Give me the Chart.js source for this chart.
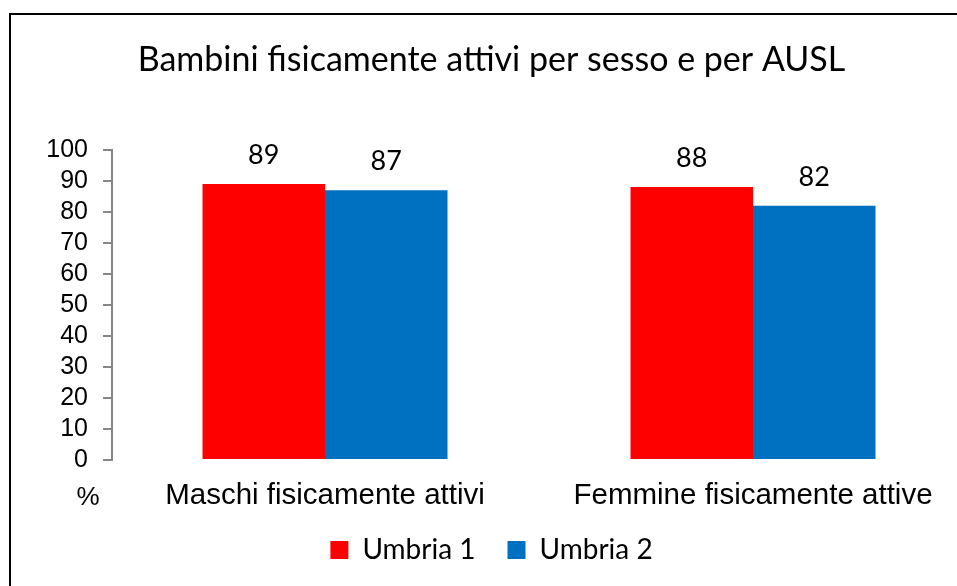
<!DOCTYPE html>
<html lang="it">
  <head>
    <meta charset="UTF-8" />
    <title>Bambini fisicamente attivi per sesso e per AUSL</title>
    <script src="https://cdn.jsdelivr.net/npm/chart.js"></script>
    <style>
      html, body { margin: 0; padding: 0; background: #fff; overflow: hidden; }
      #wrap { width: 957px; height: 586px; }
    </style>
  </head>
  <body>
    <div id="wrap"><canvas id="myChart" width="957" height="586"></canvas></div>
    <script>
      // dati
      var categories = ["Maschi fisicamente attivi", "Femmine fisicamente attive"]
      var umbria1 = [89, 88]
      var umbria2 = [87, 82]
      var yTicks = [0, 10, 20, 30, 40, 50, 60, 70, 80, 90, 100]

      var calibriLike = "Lato, 'Open Sans', sans-serif"
      var arialLike = "'Liberation Sans', Arial, sans-serif"

      function points(values) {
        return values.map(function (v, i) { return { x: i, y: v } })
      }

      // cornice + simbolo %
      var framePlugin = {
        id: "frame",
        beforeDraw: function (chart) {
          var c = chart.ctx
          c.save()
          c.strokeStyle = "#000"
          c.lineWidth = 2
          c.beginPath()
          c.moveTo(10, 586)
          c.lineTo(10, 14)
          c.lineTo(957, 14)
          c.stroke()
          c.restore()
        },
        afterDraw: function (chart) {
          var c = chart.ctx
          c.save()
          c.fillStyle = "#000"
          c.font = "26px " + arialLike
          c.textAlign = "center"
          c.textBaseline = "middle"
          c.fillText("%", 88, chart.chartArea.bottom + 38)
          c.restore()
        },
      }

      // etichette valori sopra le barre
      var valueLabels = {
        id: "valueLabels",
        afterDatasetsDraw: function (chart) {
          var c = chart.ctx
          c.save()
          c.fillStyle = "#000"
          c.font = "27px " + calibriLike
          c.textAlign = "center"
          c.textBaseline = "alphabetic"
          chart.data.datasets.forEach(function (ds, di) {
            chart.getDatasetMeta(di).data.forEach(function (bar, i) {
              c.fillText(String(ds.data[i].y), bar.x, bar.y - 20)
            })
          })
          c.restore()
        },
      }

      var ctx = document.getElementById("myChart").getContext("2d")
      new Chart(ctx, {
        type: "bar",
        data: {
          datasets: [
            { label: "Umbria 1", data: points(umbria1), backgroundColor: "#FF0000", borderWidth: 0 },
            { label: "Umbria 2", data: points(umbria2), backgroundColor: "#0070C0", borderWidth: 0 },
          ],
        },
        options: {
          responsive: false,
          animation: false,
          categoryPercentage: 0.5724,
          barPercentage: 1.0,
          layout: { padding: { left: 26, right: 0, top: 0, bottom: 12 } },
          plugins: {
            title: {
              display: true,
              text: "Bambini fisicamente attivi per sesso e per AUSL",
              color: "#000",
              font: { family: calibriLike, size: 34, weight: "normal" },
              padding: { top: 40, bottom: 69 },
            },
            legend: {
              position: "bottom",
              labels: {
                color: "#000",
                font: { family: calibriLike, size: 28 },
                boxWidth: 18,
                boxHeight: 18,
                padding: 32,
              },
            },
            tooltip: { enabled: false },
          },
          scales: {
            x: {
              type: "linear",
              offset: false,
              min: -0.4977,
              max: 1.4766,
              grid: { display: false, drawTicks: false },
              border: { display: false },
              afterBuildTicks: function (scale) {
                scale.ticks = categories.map(function (c, i) { return { value: i } })
              },
              afterFit: function (scale) { scale.height = 44 },
              ticks: {
                color: "#000",
                font: { family: arialLike, size: 29.5 },
                padding: 18,
                maxRotation: 0,
                autoSkip: false,
                callback: function (v) { return categories[v] },
              },
            },
            y: {
              min: 0,
              max: 100,
              afterBuildTicks: function (scale) {
                scale.ticks = yTicks.map(function (v) { return { value: v } })
              },
              afterFit: function (scale) { scale.width = 86 },
              grid: { drawOnChartArea: false, drawTicks: true, tickLength: 9, color: "#868686", lineWidth: 2 },
              border: { display: true, color: "#868686", width: 2 },
              ticks: {
                color: "#000",
                font: { family: arialLike, size: 25 },
                padding: 15,
                autoSkip: false,
              },
            },
          },
        },
        plugins: [framePlugin, valueLabels],
      })
    </script>
  </body>
</html>
